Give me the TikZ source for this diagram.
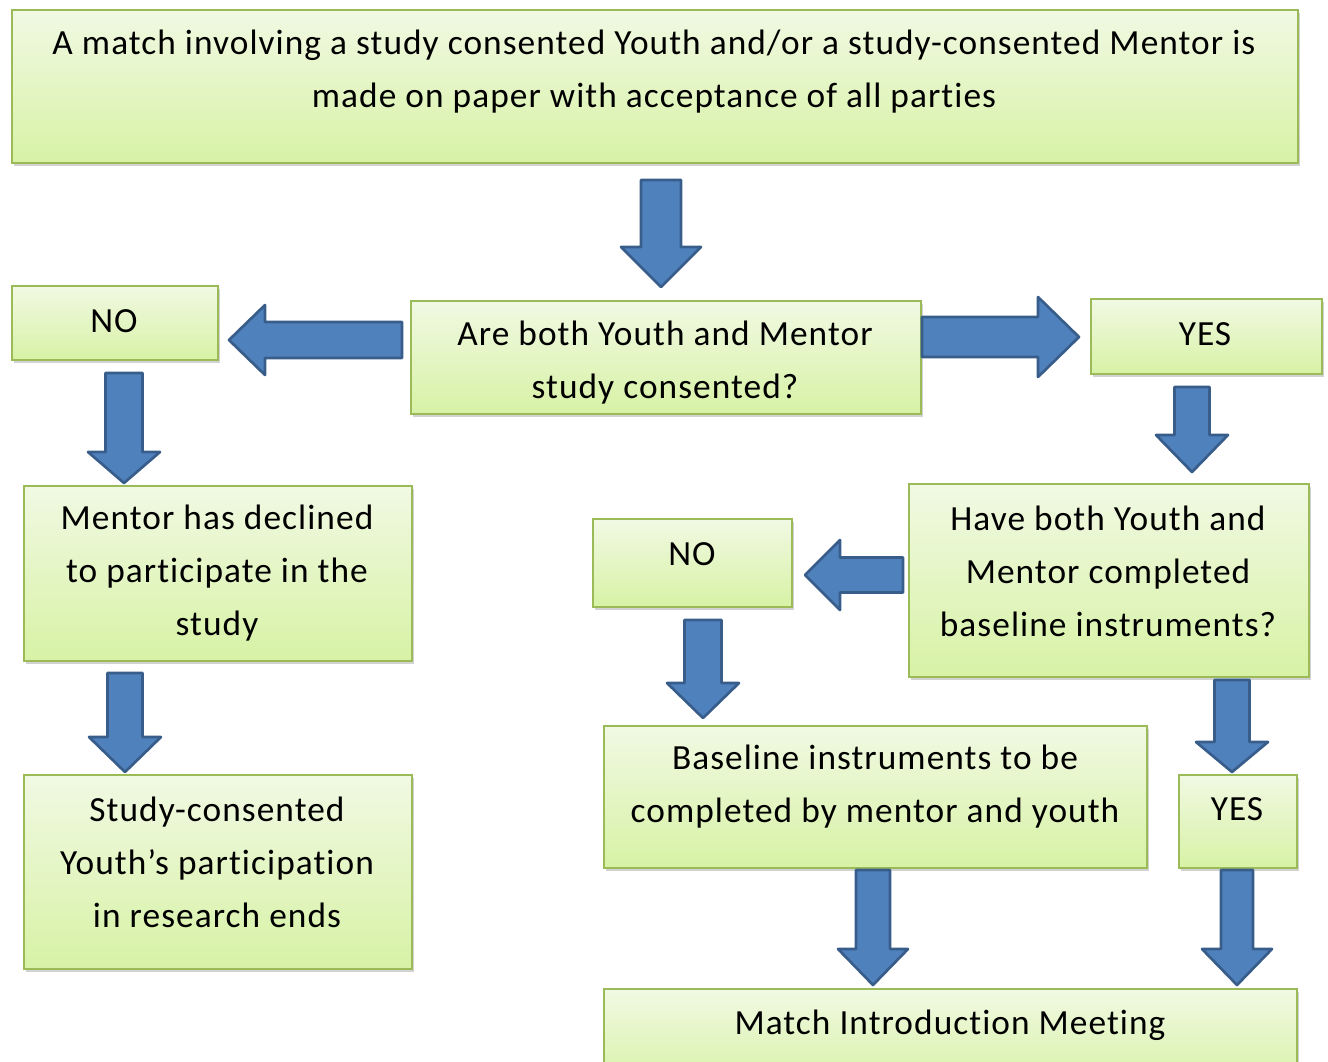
\documentclass[tikz,border=0pt]{standalone}
\usepackage{fontspec}
\setmainfont{Carlito}[LetterSpace=3,Ligatures={NoCommon}]
\usetikzlibrary{shadows}
\definecolor{boxtop}{HTML}{F1F9E3}
\definecolor{boxbot}{HTML}{D7F2A5}
\definecolor{boxline}{HTML}{9BBB59}
\definecolor{arrfill}{HTML}{4F81BD}
\definecolor{arrline}{HTML}{385D8A}
\newcommand\mybox[5]{\node[box, anchor=north west, minimum width={(#4-#2)*0.75pt}, minimum height={(#5-#3)*0.75pt}] (#1) at (#2,#3) {};}
\newcommand\varrow[6]{\draw[barrow] (#1-#5,#2) -- (#1+#5,#2) -- (#1+#5,#3) -- (#1+#6,#3) -- (#1,#4) -- (#1-#6,#3) -- (#1-#5,#3) -- cycle;}
\newcommand\harrow[6]{\draw[barrow] (#2,#1-#5) -- (#3,#1-#5) -- (#3,#1-#6) -- (#4,#1) -- (#3,#1+#6) -- (#3,#1+#5) -- (#2,#1+#5) -- cycle;}
\begin{document}
\begin{tikzpicture}[x=0.75pt,y=-0.75pt,
  box/.style={draw=boxline, line width=1.6pt, top color=boxtop, bottom color=boxbot, inner sep=0pt,
    drop shadow={shadow xshift=1.5pt, shadow yshift=-2pt, opacity=0.25, fill=black!70}},
  txt/.style={align=center, inner sep=0pt, font=\fontsize{26.5}{39.75}\selectfont},
  barrow/.style={fill=arrfill, draw=arrline, line width=2pt, line join=round}]
\useasboundingbox (0,0) rectangle (1328,1061);
\clip (0,0) rectangle (1328,1061);
% boxes
\mybox{top}{11}{9}{1297}{162}
\mybox{noL}{11}{285}{217}{359}
\mybox{qa}{410}{300}{920}{413}
\mybox{yesR}{1090}{298}{1321}{373}
\mybox{decl}{23}{485}{411}{660}
\mybox{ends}{23}{774}{411}{968}
\mybox{noM}{592}{518}{791}{606}
\mybox{qb}{908}{483}{1308}{676}
\mybox{base}{603}{725}{1146}{867}
\mybox{yesL}{1178}{774}{1296}{867}
\mybox{meet}{603}{988}{1296}{1085}
% texts
\node[txt] (topT) at (654,72) {A match involving a study consented Youth and/or a study-consented Mentor is\\made on paper with acceptance of all parties};
\node[txt] (noLT) at (114,321) {NO};
\node[txt] (qaT) at (665,363) {Are both Youth and Mentor\\study consented?};
\node[txt] (yesRT) at (1205,334) {YES};
\node[txt] (declT) at (217,573.5) {Mentor has declined\\to participate in the\\study};
\node[txt] (endsT) at (217,862.5) {Study-consented\\Youth’s participation\\in research ends};
\node[txt] (noMT) at (692,554) {NO};
\node[txt] (qbT) at (1108,571) {Have both Youth and\\Mentor completed\\baseline instruments?};
\node[txt] (baseT) at (875,787) {Baseline instruments to be\\completed by mentor and youth};
\node[txt] (yesLT) at (1237,809) {YES};
\node[txt] (meetT) at (950,1025) {Match Introduction Meeting};
% block arrows
\varrow{661}{180}{247}{287}{20}{40}
\harrow{337}{922}{1038}{1079}{20}{40}
\harrow{340}{402}{265}{229}{18}{35}
\varrow{124}{373}{452}{483}{18.5}{36}
\varrow{125}{673}{737}{772}{17.5}{36}
\varrow{1192}{387}{435}{472}{17.5}{36}
\harrow{575}{903}{840}{805}{17.5}{35}
\varrow{703}{620}{683}{718}{18.5}{36}
\varrow{1232}{680}{742}{772}{17.5}{36}
\varrow{873}{870}{949}{985}{17}{35}
\varrow{1237}{870}{949}{985}{16}{35}
\end{tikzpicture}
\end{document}
